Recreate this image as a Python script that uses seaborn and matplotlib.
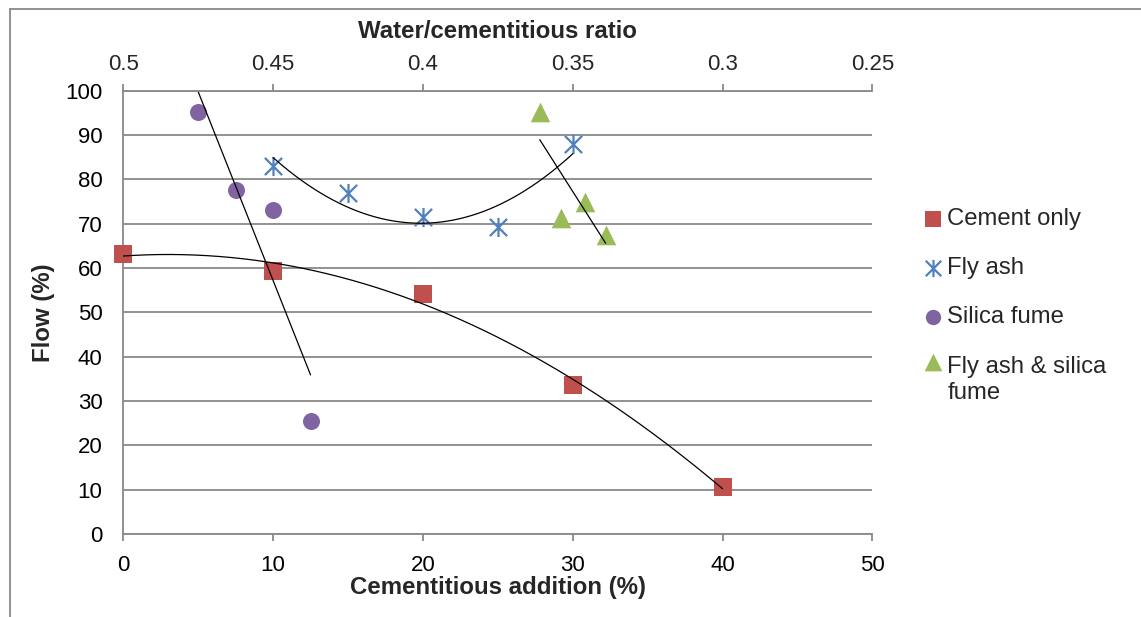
import numpy as np
import matplotlib
matplotlib.use("Agg")
import matplotlib.pyplot as plt
import seaborn as sns
from matplotlib.path import Path
from matplotlib.lines import Line2D
from matplotlib.ticker import FuncFormatter
from matplotlib.legend_handler import HandlerPathCollection

# ---------------- data ----------------
cement_x = [0, 10, 20, 30, 40]
cement_y = [63.2, 59.4, 54.2, 33.6, 10.5]

flyash_x = [10, 15, 20, 25, 30]
flyash_y = [83.1, 76.9, 71.4, 69.2, 88.0]

silica_x = [5, 7.5, 10, 12.5]
silica_y = [95.1, 77.5, 73.1, 25.6]

fasf_x = [27.8, 29.2, 30.8, 32.2]
fasf_y = [95.3, 71.3, 75.0, 67.5]

series_names = ["Cement only", "Fly ash", "Silica fume", "Fly ash & silica\nfume"]
trend_orders = [2, 2, 1, 1]

x_ticks = [0, 10, 20, 30, 40, 50]
y_ticks = [0, 10, 20, 30, 40, 50, 60, 70, 80, 90, 100]
wc_ticks = [0.5, 0.45, 0.4, 0.35, 0.3, 0.25]

x_title = "Cementitious addition (%)"
y_title = "Flow (%)"
top_title = "Water/cementitious ratio"

# ---------------- style ----------------
sns.set_style("white")
plt.rcParams["font.family"] = ["Liberation Sans", "DejaVu Sans"]

W, H = 1141, 617
GRAY = "#898989"
FS = 16       # tick labels
FS_T = 17.3   # axis titles
FS_L = 17.2   # legend

colors = ["#C0504D", "#4F81BD", "#8064A2", "#9BBB59"]

# asterisk marker (vertical bar + X), as in the original
star = Path(
    [(0, -1), (0, 1), (-0.9, -0.9), (0.9, 0.9), (-0.9, 0.9), (0.9, -0.9)],
    [Path.MOVETO, Path.LINETO, Path.MOVETO, Path.LINETO, Path.MOVETO, Path.LINETO],
)
markers = ["s", star, "o", "^"]
sizes = [165, 190, 150, 200]

fig = plt.figure(figsize=(W / 100, H / 100), dpi=100)
ax = fig.add_axes([123.3 / W, 1 - 534 / H, 749 / W, 443.3 / H])

series = [
    (cement_x, cement_y),
    (flyash_x, flyash_y),
    (silica_x, silica_y),
    (fasf_x, fasf_y),
]

handles = []
for (xs, ys), name, col, mk, s, order in zip(series, series_names, colors, markers, sizes, trend_orders):
    is_star = mk is star
    sns.scatterplot(
        x=xs, y=ys, ax=ax, marker=mk, s=s, color=col,
        edgecolor=col, linewidth=1.6 if is_star else 0,
        label=name, zorder=3, clip_on=False, legend=False,
    )
    handles.append(ax.collections[-1])
    # polynomial trendline over the data range
    coef = np.polyfit(xs, ys, order)
    xx = np.linspace(min(xs), max(xs), 200)
    ax.plot(xx, np.polyval(coef, xx), color="black", lw=0.9, zorder=4)

ax.set_xlim(x_ticks[0], x_ticks[-1])
ax.set_ylim(y_ticks[0], y_ticks[-1])
ax.set_xticks(x_ticks)
ax.set_yticks(y_ticks)
ax.yaxis.grid(True, color=GRAY, lw=1.3)
ax.xaxis.grid(False)
ax.set_axisbelow(True)

for side in ["top", "right"]:
    ax.spines[side].set_visible(False)
for side in ["left", "bottom"]:
    ax.spines[side].set_color(GRAY)
    ax.spines[side].set_linewidth(1.3)

ax.tick_params(axis="both", which="major", direction="out", length=5, width=1.3,
               color=GRAY, labelsize=FS, labelcolor="black")
ax.tick_params(axis="y", pad=10)
ax.tick_params(axis="x", pad=10)

ax.set_xlabel(x_title, fontsize=FS_T, fontweight="bold")
ax.set_ylabel(y_title, fontsize=FS_T, fontweight="bold")
ax.xaxis.set_label_coords(0.5, (534 - 576) / 443.3)
ax.yaxis.set_label_coords((55 - 123.3) / 749, 0.5)

# secondary (top) axis: water/cementitious ratio
twin = ax.twiny()
twin.set_xlim(wc_ticks[0], wc_ticks[-1])
twin.set_xticks(wc_ticks)
twin.xaxis.set_major_formatter(FuncFormatter(lambda v, p: f"{v:g}"))
for side in ["bottom", "left", "right"]:
    twin.spines[side].set_visible(False)
twin.spines["top"].set_color(GRAY)
twin.spines["top"].set_linewidth(1.3)
twin.tick_params(axis="x", direction="out", length=5, width=1.3, color=GRAY,
                 labelsize=FS, pad=6.5)
twin.set_xlabel(top_title, fontsize=FS_T, fontweight="bold")
twin.xaxis.set_label_coords(0.5, (534 - 38) / 443.3)

# legend
leg = ax.legend(handles, series_names, loc="upper left",
                bbox_to_anchor=(921 / W, 1 - 208 / H), bbox_transform=fig.transFigure,
                frameon=False, fontsize=FS_L, handlelength=1.0, handletextpad=0.1,
                labelspacing=1.14, borderpad=0, borderaxespad=0, markerscale=0.9,
                handler_map={handles[3]: HandlerPathCollection(yoffsets=[1.55])})
for t in leg.get_texts():
    t.set_linespacing(1.25)

# outer chart-area border (top and left edges visible)
fig.add_artist(Line2D([10 / W, 1], [1 - 8.5 / H, 1 - 8.5 / H], transform=fig.transFigure,
                      color=GRAY, lw=1.3))
fig.add_artist(Line2D([10 / W, 10 / W], [0, 1 - 8.5 / H], transform=fig.transFigure,
                      color=GRAY, lw=1.3))

fig.savefig("out.png", dpi=100, facecolor="white")
